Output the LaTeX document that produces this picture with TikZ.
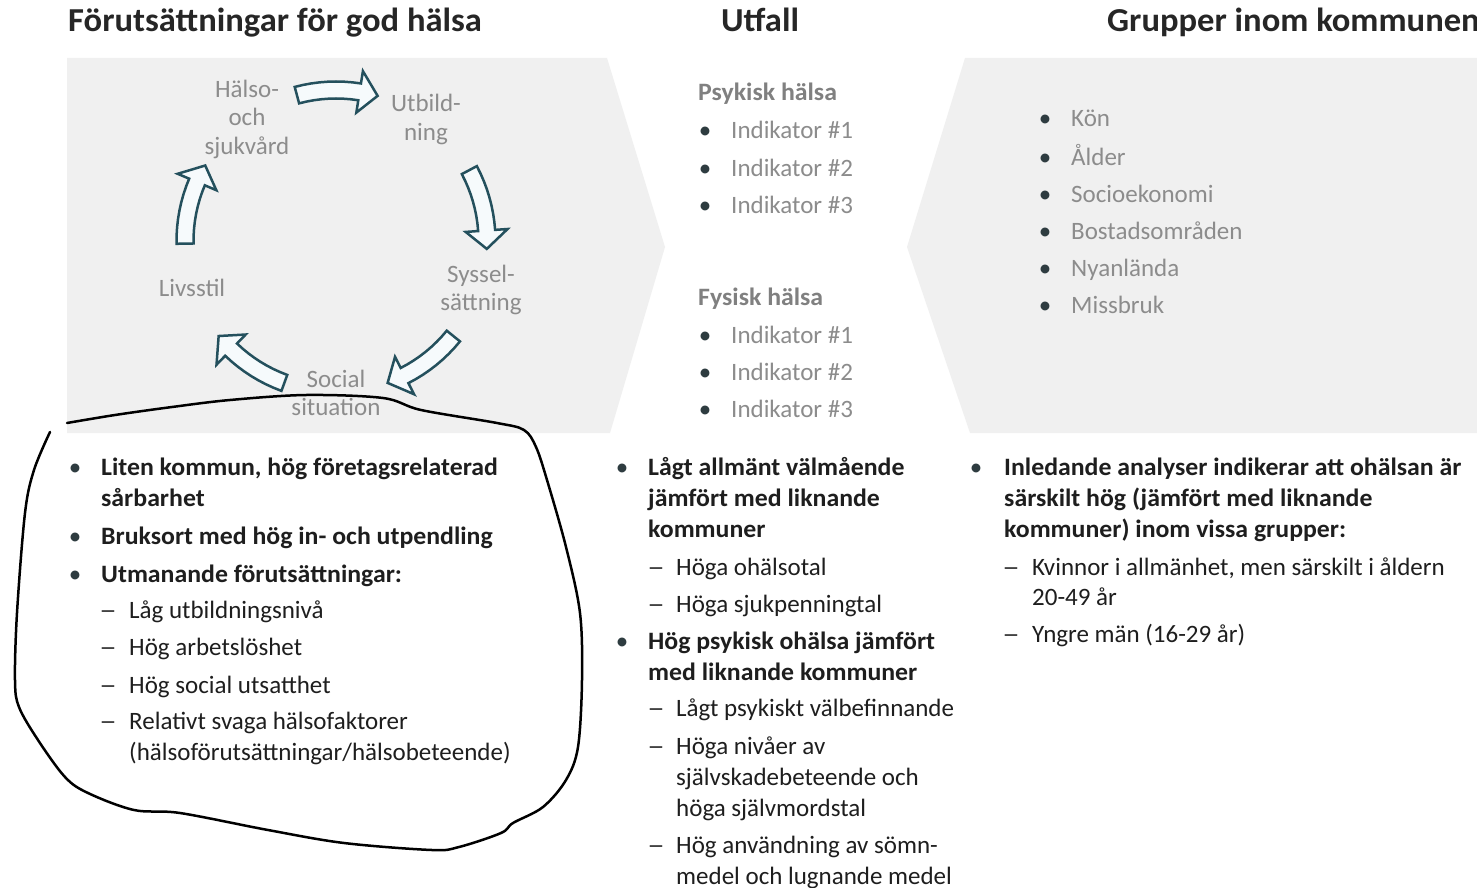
\documentclass[tikz,border=0pt]{standalone}
\usepackage{graphicx}
\usepackage{fontspec}
\setmainfont{Carlito}[BoldFeatures={FakeStretch=1.032}]

\definecolor{panelgrey}{HTML}{F0F0F0}
\definecolor{textgrey}{HTML}{8C8C8C}
\definecolor{headgrey}{HTML}{808080}
\definecolor{darktext}{HTML}{1E1E1E}
\definecolor{titletext}{HTML}{262626}
\definecolor{dotcol}{HTML}{2E3C40}
\definecolor{arrowline}{HTML}{24505D}
\definecolor{arrowfill}{HTML}{F6FAFC}

\tikzset{
  headline/.style={font=\fontsize{33.5}{40}\selectfont\bfseries, text=titletext, anchor=base west, inner sep=0pt},
  cyclelabel/.style={font=\fontsize{25}{28}\selectfont, text=textgrey, anchor=base, inner sep=0pt},
  greyhead/.style={font=\fontsize{25}{30}\selectfont\bfseries, text=headgrey, anchor=base west, inner sep=0pt},
  greyitem/.style={font=\fontsize{25}{30}\selectfont, text=textgrey, anchor=base west, inner sep=0pt},
  bulletmark/.style={font=\fontsize{25}{30}\selectfont, text=dotcol, anchor=base, inner sep=0pt},
  dashmark/.style={font=\fontsize{25}{30}\selectfont, text=darktext, anchor=base, inner sep=0pt},
  bolditem/.style={font=\fontsize{25}{30}\selectfont\bfseries, text=darktext, anchor=base west, inner sep=0pt},
  plainitem/.style={font=\fontsize{25}{30}\selectfont, text=darktext, anchor=base west, inner sep=0pt},
  cyclearrow/.style={draw=arrowline, fill=arrowfill, line width=2.5pt},
  handloop/.style={draw=black, line width=2.5pt, line cap=round, line join=round}
}

% long dash of the sub items
\newcommand\subdash{\scalebox{1.4}[1]{–}}

% curved block arrow of the cycle, #1 = middle angle
\newcommand\cycarrow[1]{%
  \draw[cyclearrow, shift={(336,241)}] (#1-15:142.5)
    \foreach \a in {3,6,...,24} {-- (#1-15+\a:142.5)}
    -- (#1+9:130) -- (#1+16:151) -- (#1+9:172) -- (#1+9:159.5)
    \foreach \a in {3,6,...,24} {-- (#1+9-\a:159.5)} -- cycle;}

\begin{document}
\begin{tikzpicture}[x=1pt, y=-1pt]
\useasboundingbox (0,0) rectangle (1477,888);
\fill[white] (0,0) rectangle (1477,888);

% titles:
\node[headline] (tPre) at (68,32) {Förutsättningar för god hälsa};
\node[headline, anchor=base] (tUtf) at (760,32) {Utfall};
\node[headline] (tGrp) at (1107,32) {Grupper inom kommunen};

% grey panels:
\fill[panelgrey] (67,58) -- (607,58) -- (665,247) -- (610,433) -- (67,433) -- cycle;
\fill[panelgrey] (965,58) -- (1477,58) -- (1477,433) -- (970,433) -- (907,247) -- cycle;

% cycle:
\node[cyclelabel] (halso1) at (247,98) {Hälso-};
\node[cyclelabel] (halso2) at (247,126) {och};
\node[cyclelabel] (halso3) at (247,154) {sjukvård};
\node[cyclelabel] (utb1) at (426,112) {Utbild-};
\node[cyclelabel] (utb2) at (426,140) {ning};
\node[cyclelabel] (syss1) at (481,282) {Syssel-};
\node[cyclelabel] (syss2) at (481,310) {sättning};
\node[cyclelabel] (soc1) at (336,387) {Social};
\node[cyclelabel] (soc2) at (336,415) {situation};
\node[cyclelabel] (livs) at (192,296) {Livsstil};

\cycarrow{-90}
\cycarrow{-13}
\cycarrow{54}
\cycarrow{125}
\cycarrow{194}

% utfall, top:
\node[greyhead] (psyk) at (698,101) {Psykisk hälsa};
\node[bulletmark] (pd1) at (705,139) {•};
\node[greyitem] (pi1) at (731,139) {Indikator \#1};
\node[bulletmark] (pd2) at (705,176) {•};
\node[greyitem] (pi2) at (731,176) {Indikator \#2};
\node[bulletmark] (pd3) at (705,213) {•};
\node[greyitem] (pi3) at (731,213) {Indikator \#3};

\node[greyhead] (fys) at (698,305) {Fysisk hälsa};
\node[bulletmark] (fd1) at (705,343) {•};
\node[greyitem] (fi1) at (731,343) {Indikator \#1};
\node[bulletmark] (fd2) at (705,380) {•};
\node[greyitem] (fi2) at (731,380) {Indikator \#2};
\node[bulletmark] (fd3) at (705,417) {•};
\node[greyitem] (fi3) at (731,417) {Indikator \#3};

% grupper, top:
\node[bulletmark] (gd1) at (1045,127) {•};
\node[greyitem] (gi1) at (1071,127) {Kön};
\node[bulletmark] (gd2) at (1045,165) {•};
\node[greyitem] (gi2) at (1071,165) {Ålder};
\node[bulletmark] (gd3) at (1045,202) {•};
\node[greyitem] (gi3) at (1071,202) {Socioekonomi};
\node[bulletmark] (gd4) at (1045,239) {•};
\node[greyitem] (gi4) at (1071,239) {Bostadsområden};
\node[bulletmark] (gd5) at (1045,276) {•};
\node[greyitem] (gi5) at (1071,276) {Nyanlända};
\node[bulletmark] (gd6) at (1045,313) {•};
\node[greyitem] (gi6) at (1071,313) {Missbruk};

% left column, bottom:
\node[bulletmark] (ld1) at (75,475) {•};
\node[bolditem] (l1) at (101,475) {Liten kommun, hög företagsrelaterad};
\node[bolditem] (l1b) at (101,506) {sårbarhet};
\node[bulletmark] (ld2) at (75,544) {•};
\node[bolditem] (l2) at (101,544) {Bruksort med hög in- och utpendling};
\node[bulletmark] (ld3) at (75,582) {•};
\node[bolditem] (l3) at (101,582) {Utmanande förutsättningar:};
\node[dashmark] (lm1) at (108,618) {\subdash};
\node[plainitem] (ls1) at (129,618) {Låg utbildningsnivå};
\node[dashmark] (lm2) at (108,655) {\subdash};
\node[plainitem] (ls2) at (129,655) {Hög arbetslöshet};
\node[dashmark] (lm3) at (108,693) {\subdash};
\node[plainitem] (ls3) at (129,693) {Hög social utsatthet};
\node[dashmark] (lm4) at (108,729) {\subdash};
\node[plainitem] (ls4) at (129,729) {Relativt svaga hälsofaktorer};
\node[plainitem] (ls4b) at (129,760) {(hälsoförutsättningar/hälsobeteende)};

% middle column, bottom:
\node[bulletmark] (md1) at (622,475) {•};
\node[bolditem] (m1) at (648,475) {Lågt allmänt välmående};
\node[bolditem] (m1b) at (648,506) {jämfört med liknande};
\node[bolditem] (m1c) at (648,537) {kommuner};
\node[dashmark] (mm1) at (656,575) {\subdash};
\node[plainitem] (ms1) at (676,575) {Höga ohälsotal};
\node[dashmark] (mm2) at (656,612) {\subdash};
\node[plainitem] (ms2) at (676,612) {Höga sjukpenningtal};
\node[bulletmark] (md2) at (622,649) {•};
\node[bolditem] (m2) at (648,649) {Hög psykisk ohälsa jämfört};
\node[bolditem] (m2b) at (648,680) {med liknande kommuner};
\node[dashmark] (mm3) at (656,716) {\subdash};
\node[plainitem] (ms3) at (676,716) {Lågt psykiskt välbefinnande};
\node[dashmark] (mm4) at (656,754) {\subdash};
\node[plainitem] (ms4) at (676,754) {Höga nivåer av};
\node[plainitem] (ms4b) at (676,785) {självskadebeteende och};
\node[plainitem] (ms4c) at (676,816) {höga självmordstal};
\node[dashmark] (mm5) at (656,853) {\subdash};
\node[plainitem] (ms5) at (676,853) {Hög användning av sömn-};
\node[plainitem] (ms5b) at (676,884) {medel och lugnande medel};

% right column, bottom:
\node[bulletmark] (rd1) at (976,475) {•};
\node[bolditem] (r1) at (1004,475) {Inledande analyser indikerar att ohälsan är};
\node[bolditem] (r1b) at (1004,506) {särskilt hög (jämfört med liknande};
\node[bolditem] (r1c) at (1004,537) {kommuner) inom vissa grupper:};
\node[dashmark] (rm1) at (1011,575) {\subdash};
\node[plainitem] (rs1) at (1032,575) {Kvinnor i allmänhet, men särskilt i åldern};
\node[plainitem] (rs1b) at (1032,605) {20-49 år};
\node[dashmark] (rm2) at (1011,642) {\subdash};
\node[plainitem] (rs2) at (1032,642) {Yngre män (16-29 år)};

% hand drawn loop:
\draw[handloop] plot[smooth, tension=0.55] coordinates {
  (67,423) (115,415) (172,407) (230,400) (306,395) (383,398) (421,410)
  (497,423) (524,430) (536,447) (547,480) (566,547) (580,613) (582,680)
  (578,747) (566,780) (543,807) (513,823) (501,833) (459,847) (432,850)
  (344,843) (268,830) (180,813) (134,810) (88,793) (65,777) (38,740)
  (19,707) (15,680) (17,613) (25,513) (34,470) (50,432)};

\end{tikzpicture}
\end{document}
